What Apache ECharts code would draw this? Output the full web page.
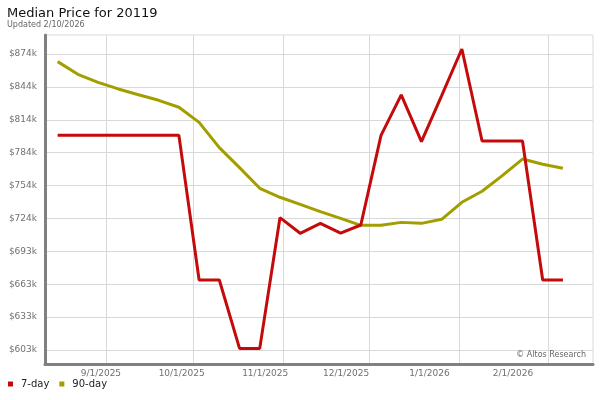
<!DOCTYPE html>
<html>
<head>
<meta charset="utf-8">
<script src="https://cdn.jsdelivr.net/npm/echarts@6/dist/echarts.min.js"></script>
<style>html,body{margin:0;padding:0;background:#fff}#c{width:600px;height:400px}</style>
</head>
<body>
<div id="c"></div>
<script>
// ---- data (values in $ thousands) ----
const weekDates = ['2025-08-15','2025-08-22','2025-08-29','2025-09-05','2025-09-12','2025-09-19','2025-09-26',
  '2025-10-03','2025-10-10','2025-10-17','2025-10-24','2025-10-31','2025-11-07','2025-11-14','2025-11-21','2025-11-28',
  '2025-12-05','2025-12-12','2025-12-19','2025-12-26','2026-01-02','2026-01-09','2026-01-16','2026-01-23','2026-01-30','2026-02-06'];
const sevenDay = [799.6,799.6,799.6,799.6,799.6,799.6,799.6,667.1,667.1,604.5,604.5,724.2,709.9,719.0,710.0,717.5,
  799.6,836.6,793.8,836.0,878.7,794.4,794.4,794.4,667.1,667.1];
const ninetyDay = [867.1,855.5,848.1,842.1,836.8,831.7,825.3,811.5,788.3,770.0,751.1,742.9,736.4,729.7,723.6,717.2,
  717.2,719.9,719.0,722.7,738.3,748.4,762.7,777.9,773.1,769.4];
const seriesNames = ['7-day','90-day'];
const xTickDates = ['2025-09-01','2025-10-01','2025-11-01','2025-12-01','2026-01-01','2026-02-01'];
const xTickLabels = ['9/1/2025','10/1/2025','11/1/2025','12/1/2025','1/1/2026','2/1/2026'];
const yTickValues = [603,633.125,663.25,693.375,723.5,753.625,783.75,813.875,844,874.125];
const yTickLabels = ['$603k','$633k','$663k','$693k','$724k','$754k','$784k','$814k','$844k','$874k'];

function parse(s){const p=s.split('-').map(Number);return Date.UTC(p[0],p[1]-1,p[2]);}
const xTicks = xTickDates.map(parse);
const xMin = Date.UTC(2025,7,10,15);
const xMax = Date.UTC(2026,1,16,10);
const yMin = 590.2, yMax = 891.5;

const chart = echarts.init(document.getElementById('c'), null, {renderer:'canvas'});
const gridLine = {color:'#d9d9d9', width:1};
chart.setOption({
  animation:false,
  textStyle:{fontFamily:'DejaVu Sans'},
  title:[
    {text:'Median Price for 20119', left:7, top:7, padding:0, textStyle:{fontFamily:'DejaVu Sans', fontSize:13, fontWeight:'normal', color:'#111'}},
    {text:'Updated 2/10/2026', left:7, top:20.5, padding:0, textStyle:{fontFamily:'DejaVu Sans', fontSize:8, fontWeight:'normal', color:'#666'}},
    {text:'\u00a9 Altos Research', right:14, top:350.5, padding:0, textStyle:{fontFamily:'DejaVu Sans', fontSize:8, fontWeight:'normal', color:'#666'}}
  ],
  legend:{
    data:seriesNames, left:8, top:379, padding:0, icon:'rect', itemWidth:5, itemHeight:5, itemGap:10,
    textStyle:{fontFamily:'DejaVu Sans', fontSize:10, color:'#222', padding:[0,0,0,3]}
  },
  grid:[
    {left:45, right:7, top:35, bottom:36, show:true, borderColor:'#d9d9d9', borderWidth:1, backgroundColor:'transparent'},
    {left:43.3, right:45.4, top:35, bottom:36}
  ],
  xAxis:[
    {type:'value', gridIndex:0, min:xMin, max:xMax, scale:true,
     axisLine:{show:true, onZero:false, lineStyle:{color:'#808080', width:3}},
     axisTick:{show:false, customValues:xTicks},
     axisLabel:{show:false, customValues:xTicks},
     splitLine:{show:true, lineStyle:gridLine}},
    {type:'value', gridIndex:1, min:xMin, max:xMax, scale:true,
     axisLine:{show:false}, axisTick:{show:false, customValues:xTicks},
     axisLabel:{customValues:xTicks, margin:5, color:'#707070', fontSize:9, fontFamily:'DejaVu Sans',
       formatter:function(v){const i=xTicks.indexOf(v);return i>=0?xTickLabels[i]:'';}},
     splitLine:{show:false}}
  ],
  yAxis:[
    {type:'value', gridIndex:0, min:yMin, max:yMax, scale:true,
     axisLine:{show:true, onZero:false, lineStyle:{color:'#808080', width:3}},
     axisTick:{show:false, customValues:yTickValues},
     axisLabel:{customValues:yTickValues, margin:8, color:'#707070', fontSize:9, fontFamily:'DejaVu Sans',
       formatter:function(v){const i=yTickValues.indexOf(v);return i>=0?yTickLabels[i]:'';}},
     splitLine:{show:true, lineStyle:gridLine}},
    {type:'value', gridIndex:1, min:yMin, max:yMax, show:false}
  ],
  series:[
    {name:seriesNames[0], type:'line', xAxisIndex:0, yAxisIndex:0, showSymbol:false, symbol:'none',
     data:weekDates.map((d,i)=>[parse(d), sevenDay[i]]),
     lineStyle:{color:'#c40a0a', width:3}, itemStyle:{color:'#c40a0a'}, z:3},
    {name:seriesNames[1], type:'line', xAxisIndex:0, yAxisIndex:0, showSymbol:false, symbol:'none',
     data:weekDates.map((d,i)=>[parse(d), ninetyDay[i]]),
     lineStyle:{color:'#a39e00', width:3}, itemStyle:{color:'#a39e00'}, z:2}
  ]
});
</script>
</body>
</html>
